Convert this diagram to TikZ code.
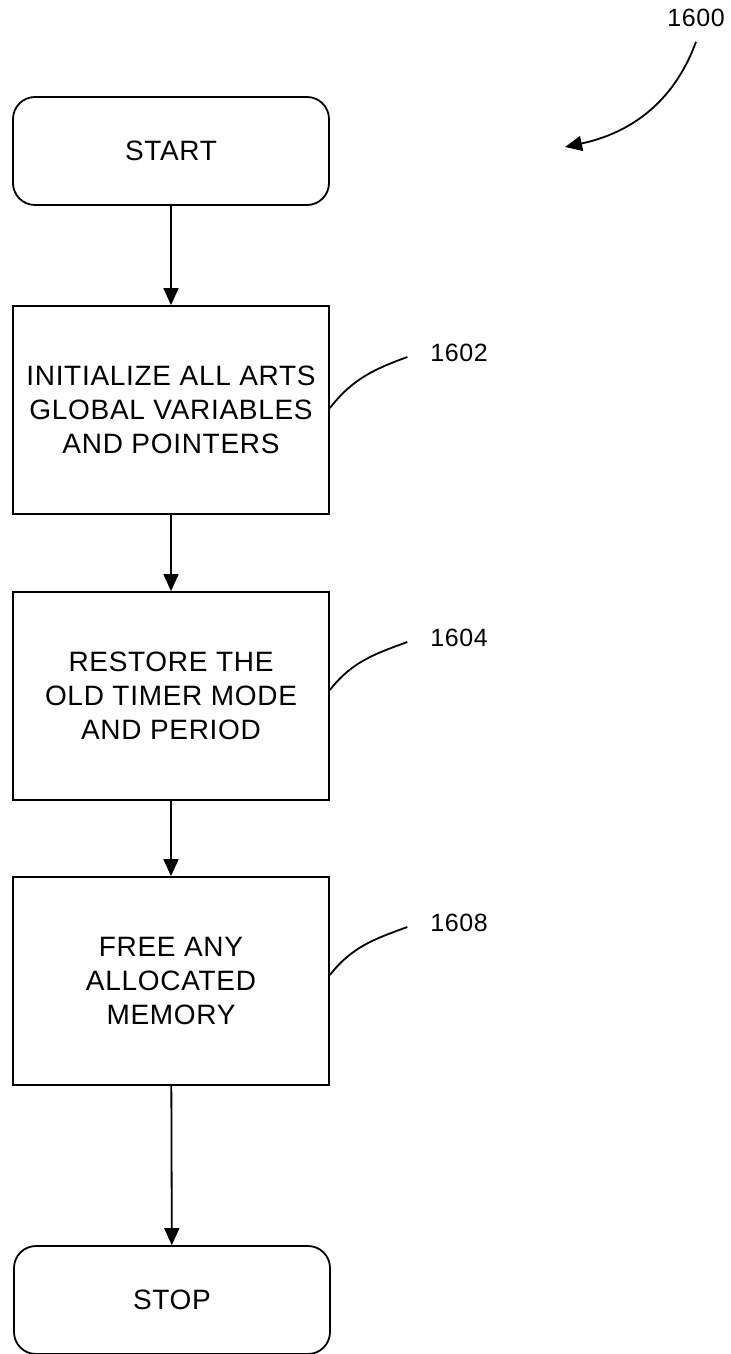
\documentclass[tikz,border=0pt]{standalone}
\usepackage{fontspec}
\setmainfont{Liberation Sans}
\newfontfamily\boxfont[LetterSpace=2.5]{Liberation Sans}
\usetikzlibrary{arrows.meta}

\tikzset{
  terminal/.style={draw, rounded corners=11pt, minimum width=158pt, minimum height=54pt,
    font=\boxfont\fontsize{14}{17}\selectfont},
  process/.style={draw, minimum width=158pt, minimum height=104pt, align=center,
    font=\boxfont\fontsize{14}{17}\selectfont},
  refnum/.style={font=\boxfont\fontsize{12.5}{15}\selectfont, inner sep=0pt},
  flow/.style={-{Triangle[length=8.5pt,width=7.5pt]}},
}

\begin{document}
\begin{tikzpicture}[x=0.5pt, y=-0.5pt, line width=0.9pt]
\useasboundingbox (0,0) rectangle (731,1354);

% flow boxes
\node[terminal] (start) at (171,151) {START};
\node[process] (init) at (171,410) {INITIALIZE ALL ARTS\\GLOBAL VARIABLES\\AND POINTERS};
\node[process] (restore) at (171,696) {RESTORE THE\\OLD TIMER MODE\\AND PERIOD};
\node[process] (free) at (171,981) {FREE ANY\\ALLOCATED\\MEMORY};
\node[terminal] (stop) at (172,1300) {STOP};

\draw[flow] (start) -- (init);
\draw[flow] (init) -- (restore);
\draw[flow] (restore) -- (free);
\draw[flow] (free) -- (stop);

% reference numbers
\node[refnum] (n1600) at (696,18) {1600};
\coordinate (fig) at (565,147);
\draw[flow] ([xshift=0pt,yshift=-7pt]n1600.south) to[out=-110, in=12] (fig);

\node[refnum] (n1602) at (459,353) {1602};
\node[refnum] (n1604) at (459,638) {1604};
\node[refnum] (n1608) at (459,923) {1608};

\draw ([yshift=1pt]init.east) to[out=52, in=200] ([xshift=-11pt,yshift=-2pt]n1602.west);
\draw ([yshift=3pt]restore.east) to[out=52, in=200] ([xshift=-11pt,yshift=-2pt]n1604.west);
\draw ([yshift=3pt]free.east) to[out=52, in=200] ([xshift=-11pt,yshift=-2pt]n1608.west);

\end{tikzpicture}
\end{document}
